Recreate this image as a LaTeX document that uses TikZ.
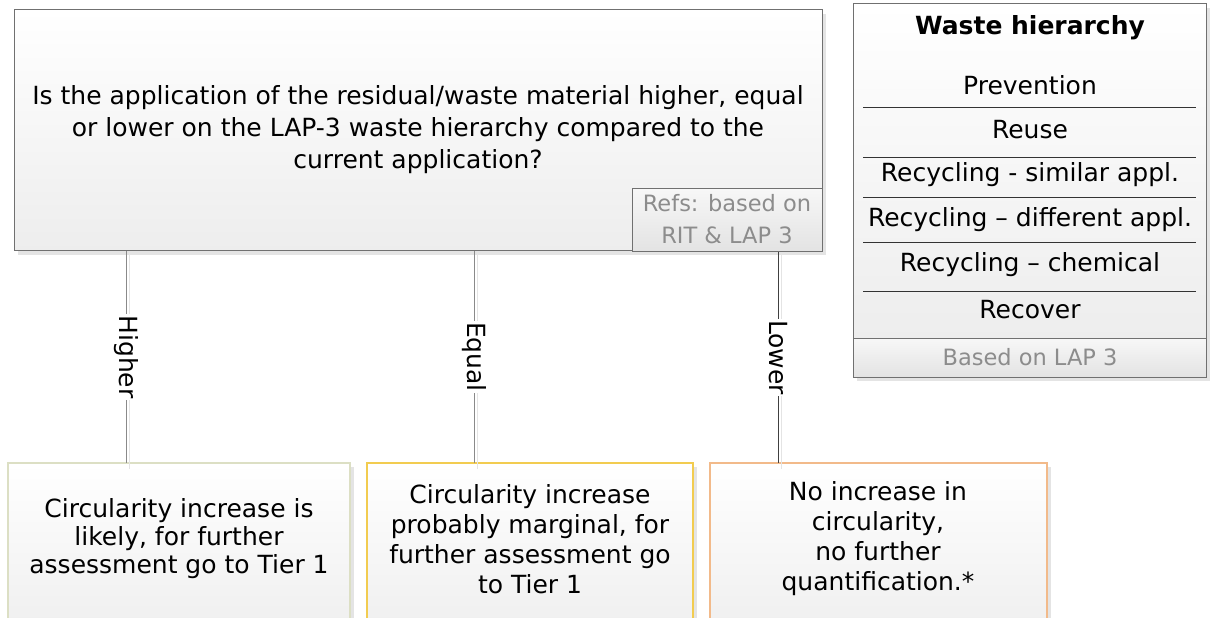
\documentclass[tikz,border=0pt]{standalone}
\usepackage{fontspec}
\setmainfont{DejaVu Sans}
\usetikzlibrary{calc}
\definecolor{edgegray}{HTML}{707070}
\definecolor{linegray}{HTML}{8A8A8A}
\definecolor{refgray}{HTML}{8C8C8C}
\definecolor{shadowgray}{HTML}{E4E4E4}
\definecolor{greenedge}{HTML}{DCDFC4}
\definecolor{goldedge}{HTML}{F2CC50}
\definecolor{orangeedge}{HTML}{F2BA8A}
\tikzset{
  every node/.style={font=\fontsize{25}{31}\selectfont},
  panel/.style={draw=edgegray, line width=1pt, top color=white, bottom color=black!7},
  footpanel/.style={draw=edgegray, line width=1pt, top color=black!3, bottom color=black!11},
  branch/.style={draw=linegray, line width=1pt},
  branchlabel/.style={fill=white, inner sep=1pt, rotate=-90},
  resultbox/.style={line width=1.2pt, top color=white, bottom color=black!6},
  sepline/.style={draw=black!80, line width=0.8pt},
}
\begin{document}
\begin{tikzpicture}[x=1pt,y=-1pt]
\useasboundingbox (0,0) rectangle (1212,618);

% soft drop shadows
\fill[shadowgray] (18,14) rectangle (826,255);
\fill[shadowgray] (857,8) rectangle (1210,381);
\fill[shadowgray] (12,467) rectangle (354,618);
\fill[shadowgray] (371,467) rectangle (697,618);
\fill[shadowgray] (714,467) rectangle (1051,618);

% question box
\path[panel] (14,10) rectangle (822,250);
\node[align=center, font=\fontsize{25}{32}\selectfont] (question) at (418,130)
  {Is the application of the residual/waste material higher, equal\\
   or lower on the LAP-3 waste hierarchy compared to the\\
   current application?};

% references tag
\path[footpanel] (632,188) rectangle (822,251);
\node[align=center, text=refgray, font=\fontsize{22.5}{32}\selectfont] (refs) at (727,219)
  {Refs: based on\\RIT \& LAP 3};

% result boxes
\path[resultbox, draw=greenedge] (8,463) rectangle (350,625);
\path[resultbox, draw=goldedge] (367,463) rectangle (693,625);
\path[resultbox, draw=orangeedge] (710,463) rectangle (1047,625);
\node[align=center, font=\fontsize{25}{28}\selectfont] (higherres) at (179,539)
  {Circularity increase is\\likely, for further\\assessment go to Tier 1};
\node[align=center, font=\fontsize{25}{30}\selectfont] (equalres) at (530,539)
  {Circularity increase\\probably marginal, for\\further assessment go\\to Tier 1};
\node[align=center, font=\fontsize{25}{30}\selectfont] (lowerres) at (878,539)
  {No increase in\\circularity,\\no further\\quantification.*};

% anchor points on box edges
\coordinate (h1) at (126,251);
\coordinate (h2) at (126,463);
\coordinate (e1) at (474,251);
\coordinate (e2) at (474,463);
\coordinate (l1) at (778,252);
\coordinate (l2) at (778,463);

% faint line shadows
\draw[shadowgray, line width=1pt] ($(h1)+(3,0)$) -- ($(h2)+(3,6)$);
\draw[shadowgray, line width=1pt] ($(e1)+(3,0)$) -- ($(e2)+(3,6)$);
\draw[shadowgray, line width=1pt] ($(l1)+(3,0)$) -- ($(l2)+(3,6)$);

% branches
\draw[branch] (h1) -- node[branchlabel] (higher) {Higher} (h2);
\draw[branch] (e1) -- node[branchlabel] (equal) {Equal} (e2);
\draw[branch, draw=black!75] (l1) -- node[branchlabel] (lower) {Lower} (l2);

% waste hierarchy panel
\path[panel] (853,4) rectangle (1206,338);
\path[footpanel] (853,338) rectangle (1206,377);
\node[font=\bfseries\fontsize{25}{30}\selectfont] (wtitle) at (1030,28) {Waste hierarchy};
\node (w1) at (1030,85) {Prevention};
\node (w2) at (1030,130) {Reuse};
\node (w3) at (1030,175) {Recycling - similar appl.};
\node (w4) at (1030,220) {Recycling – different appl.};
\node (w5) at (1030,265) {Recycling – chemical};
\node (w6) at (1030,310) {Recover};
\node[text=refgray, font=\fontsize{22.5}{28}\selectfont] (wfoot) at (1030,357) {Based on LAP 3};
\foreach \yy in {107,157,197,242,291}
  \draw[sepline] (863,\yy) -- (1196,\yy);
\end{tikzpicture}
\end{document}
